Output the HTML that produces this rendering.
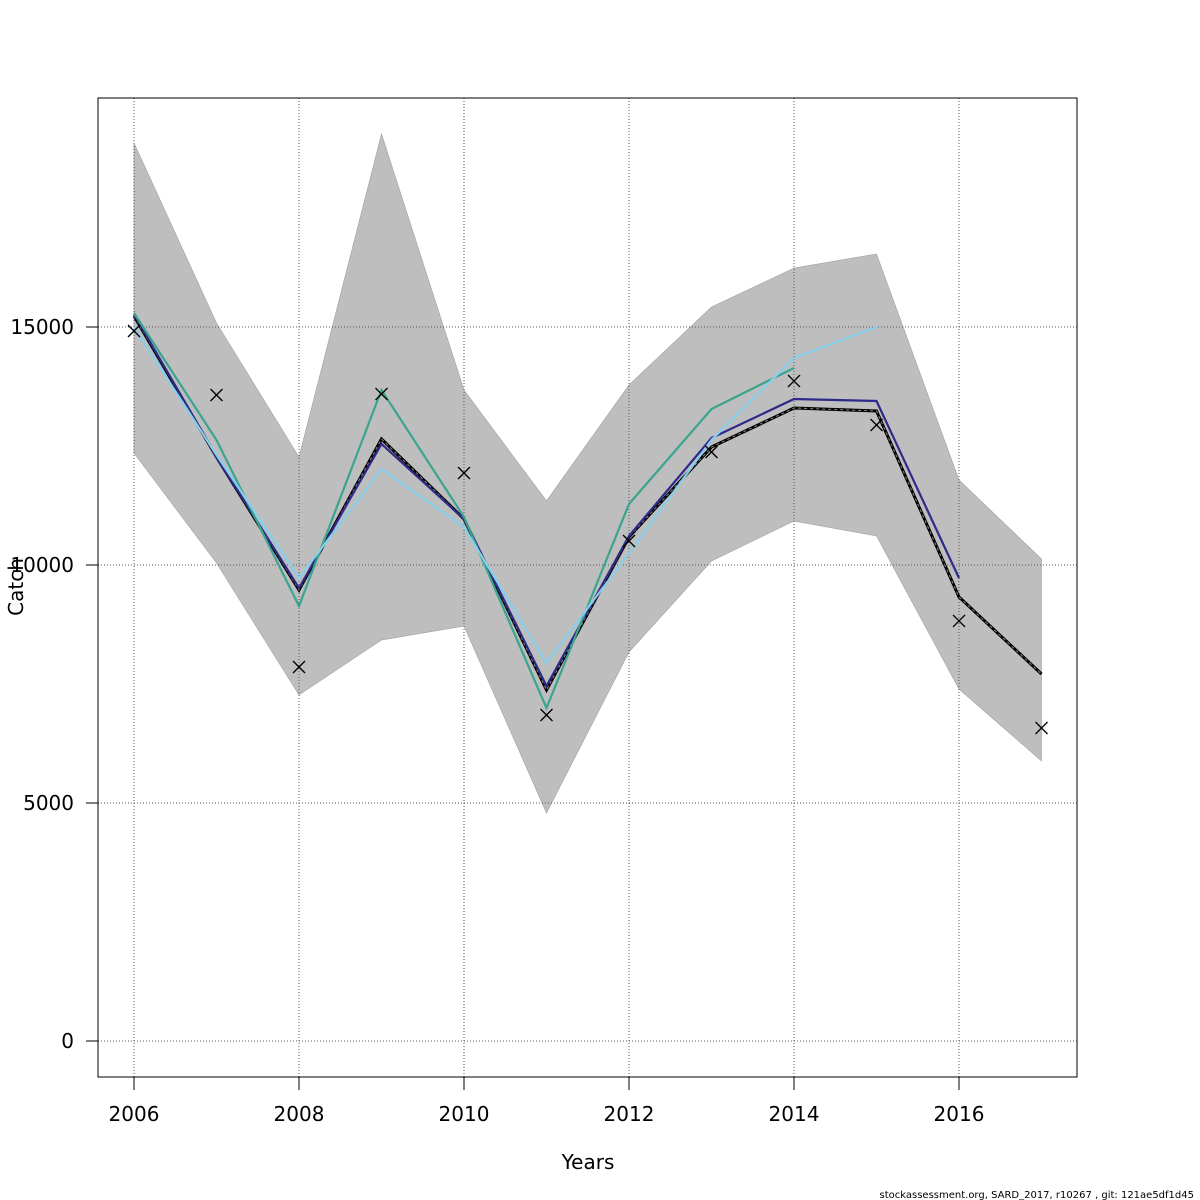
<!DOCTYPE html>
<html><head><meta charset="utf-8"><style>
html,body{margin:0;padding:0;background:#fff;}
svg{display:block;font-family:"DejaVu Sans","Liberation Sans",sans-serif;}
</style></head><body>
<svg id="chart" width="1200" height="1200"></svg>
<script>
const years=[2006,2007,2008,2009,2010,2011,2012,2013,2014,2015,2016,2017];
const bandUpper=[18866,15084,12269,19055,13676,11345,13782,15420,16239,16534,11786,10126];
const bandLower=[12353,10042,7269,8424,8718,4790,8172,10084,10924,10609,7395,5882];
const mainFit=[15231,12269,9475,12647,10966,7374,10588,12479,13298,13235,9328,7710];
const peel1=[15270,12269,9517,12542,10966,7458,10609,12668,13487,13445,9727];
const peel3=[15294,12626,9139,13676,11008,6996,11282,13277,14139];
const peel2=[15000,12311,9727,12017,10798,7941,10252,12626,14349,15000];
const observed=[14916,13571,7857,13592,11933,6849,10504,12374,13866,12941,8824,6576];
const xTicks=[2006,2008,2010,2012,2014,2016];
const yTicks=[0,5000,10000,15000];
const NS="http://www.w3.org/2000/svg";
const svg=document.getElementById('chart');
const X=v=>134+(v-2006)*82.5;
const Y=v=>1041-v*0.0476;
function mk(t,a,p){const e=document.createElementNS(NS,t);for(const k in a)e.setAttribute(k,a[k]);(p||svg).appendChild(e);return e;}
// band
let pts=years.map((y,i)=>X(y)+','+Y(bandUpper[i]));
for(let i=years.length-1;i>=0;i--)pts.push(X(years[i])+','+Y(bandLower[i]));
const band=mk('polygon',{points:pts.join(' '),fill:'#bebebe',stroke:'#a0a0a0','stroke-width':0.6});


// grid
xTicks.forEach(t=>{const g=mk('line',{x1:X(t),x2:X(t),y1:98,y2:1077,stroke:'#555','stroke-width':1,'stroke-dasharray':'1,2'});

});
yTicks.forEach(t=>{const g=mk('line',{x1:98,x2:1077,y1:Y(t),y2:Y(t),stroke:'#555','stroke-width':1,'stroke-dasharray':'1,2'});

});
function line(arr,color,w,name,dash){const p=arr.map((v,i)=>X(years[i])+','+Y(v)).join(' ');
const l=mk('polyline',{points:p,fill:'none',stroke:color,'stroke-width':w});if(dash)l.setAttribute('stroke-dasharray',dash);

return l;}
line(mainFit,'#000',3,'main-fit-line');
line(mainFit,'#888',1,'main-fit-dash',"3,3");
line(peel1,'#2e2a8a',2.2,'retro-peel-1');
line(peel3,'#3aa58f',2.2,'retro-peel-3');
line(peel2,'#87ceeb',2.2,'retro-peel-2');
observed.forEach((v,i)=>{const g=mk('g',{});


const x=X(years[i]),y=Y(v),s=6;
mk('line',{x1:x-s,y1:y-s,x2:x+s,y2:y+s,stroke:'#000','stroke-width':1.3},g);
mk('line',{x1:x-s,y1:y+s,x2:x+s,y2:y-s,stroke:'#000','stroke-width':1.3},g);});
const box=mk('rect',{x:98,y:98,width:979,height:979,fill:'none',stroke:'#000','stroke-width':1});


xTicks.forEach(t=>{mk('line',{x1:X(t),x2:X(t),y1:1077,y2:1090,stroke:'#000'});
const tx=mk('text',{x:X(t),y:1121,'font-size':20,'text-anchor':'middle'});tx.textContent=t;

});
yTicks.forEach(t=>{mk('line',{x1:86,x2:98,y1:Y(t),y2:Y(t),stroke:'#000'});
const tx=mk('text',{x:74,y:Y(t)+7,'font-size':20,'text-anchor':'end'});tx.textContent=t;

});
</script>
<svg style="position:absolute;left:0;top:0" width="1200" height="1200">
<text x="588" y="1169" font-size="20" text-anchor="middle" font-family="DejaVu Sans,Liberation Sans,sans-serif">Years</text>
<text transform="translate(23,587) rotate(-90)" font-size="20" text-anchor="middle" font-family="DejaVu Sans,Liberation Sans,sans-serif">Catch</text>
<text x="1194" y="1198" font-size="10" text-anchor="end" font-family="DejaVu Sans,Liberation Sans,sans-serif">stockassessment.org, SARD_2017, r10267 , git: 121ae5df1d45</text>
</svg>
</body></html>
